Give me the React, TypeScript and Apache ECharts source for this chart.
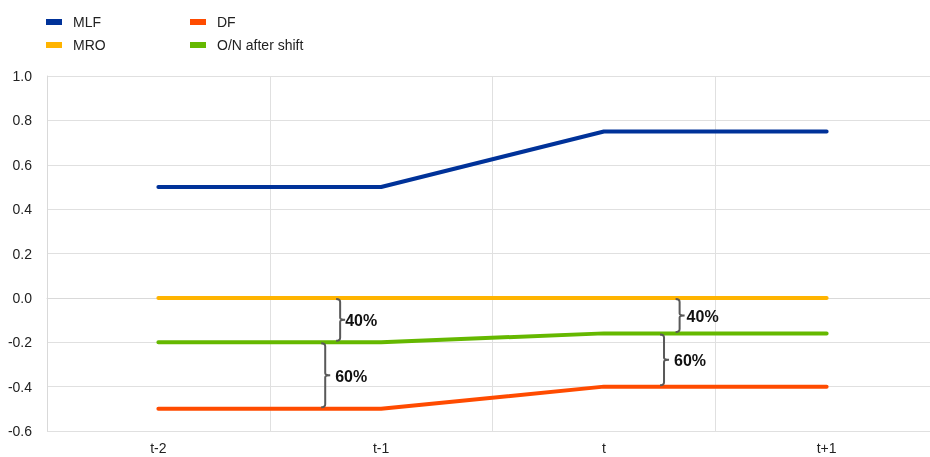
import React, { useEffect, useRef } from "react";
import * as echarts from "echarts";

const categories = ["t-2", "t-1", "t", "t+1"];
const mlf = [0.5, 0.5, 0.75, 0.75];
const mro = [0, 0, 0, 0];
const df = [-0.5, -0.5, -0.4, -0.4];
const onShift = [-0.2, -0.2, -0.16, -0.16];
const yTicks = { min: -0.6, max: 1.0, interval: 0.2 };
// brace annotations: [category index, top value, bottom value, offset in category widths]
const braces = [
  [1, 0, -0.2, -0.184],
  [1, -0.2, -0.5, -0.251],
  [2, 0, -0.16, 0.34],
  [2, -0.16, -0.4, 0.27],
];
const braceLabels = ["40%", "60%", "40%", "60%"];
const braceLabelGap = [5, 10, 7, 10];

const COLORS = {
  MLF: "#003299",
  MRO: "#FFB400",
  DF: "#FF4B00",
  ON: "#65B800",
};

export default function App() {
  const ref = useRef<HTMLDivElement>(null);
  useEffect(() => {
    if (!ref.current) return;
    const chart = echarts.init(ref.current, undefined, { renderer: "svg" });
    const lineSeries = (name: string, data: number[], color: string) => ({
      name,
      type: "line",
      data,
      symbol: "none",
      lineStyle: { color, width: 4, cap: "round" },
      itemStyle: { color },
      z: 3,
    });
    const legendBase = {
      orient: "vertical",
      top: 10,
      itemWidth: 16,
      itemHeight: 6,
      itemGap: 9,
      icon: "rect",
      textStyle: { fontSize: 14, color: "#222", padding: [0, 0, 0, 6] },
    };
    chart.setOption({
      animation: false,
      textStyle: { fontFamily: "Liberation Sans, Arial, sans-serif" },
      legend: [
        { ...legendBase, data: ["MLF", "MRO"], left: 41 },
        { ...legendBase, data: ["DF", "O/N after shift"], left: 185 },
      ],
      grid: {
        left: 47,
        top: 76,
        right: -8,
        bottom: 26,
        containLabel: false,
        outerBoundsMode: "none",
      },
      xAxis: {
        type: "category",
        data: categories,
        boundaryGap: true,
        axisLine: { show: true, lineStyle: { color: "#d9d9d9" } },
        axisTick: { show: false },
        axisLabel: { fontSize: 14, color: "#222", margin: 10 },
        splitLine: { show: true, lineStyle: { color: "#e0e0e0", width: 1 } },
      },
      yAxis: {
        type: "value",
        min: yTicks.min,
        max: yTicks.max,
        interval: yTicks.interval,
        axisLine: { show: true, lineStyle: { color: "#d9d9d9" } },
        axisTick: { show: false },
        axisLabel: {
          fontSize: 14,
          color: "#222",
          margin: 15,
          formatter: (v: number) => v.toFixed(1),
        },
        splitLine: { show: true, lineStyle: { color: "#e0e0e0", width: 1 } },
      },
      series: [
        lineSeries("MLF", mlf, COLORS.MLF),
        lineSeries("MRO", mro, COLORS.MRO),
        lineSeries("DF", df, COLORS.DF),
        lineSeries("O/N after shift", onShift, COLORS.ON),
        {
          type: "custom",
          z: 5,
          silent: true,
          data: braces,
          renderItem: (params: any, api: any) => {
            const idx = api.value(0);
            const off = api.value(3);
            const a = api.coord([0, 0]);
            const b = api.coord([1, 0]);
            const step = b[0] - a[0];
            const top = api.coord([idx, api.value(1)]);
            const bot = api.coord([idx, api.value(2)]);
            const x = top[0] + off * step;
            const y1 = top[1] + 1;
            const y2 = bot[1] - 1.5;
            const ym = (y1 + y2) / 2;
            const w = 4;
            const s = 5;
            const d =
              `M ${x - w} ${y1} Q ${x} ${y1} ${x} ${y1 + 3} ` +
              `L ${x} ${ym - 2} Q ${x} ${ym} ${x + s} ${ym} ` +
              `Q ${x} ${ym} ${x} ${ym + 2} L ${x} ${y2 - 3} Q ${x} ${y2} ${x - w} ${y2}`;
            return {
              type: "group",
              children: [
                {
                  type: "path",
                  shape: { pathData: d },
                  style: { stroke: "#595959", lineWidth: 2, fill: "none" },
                },
                {
                  type: "text",
                  x: x + braceLabelGap[params.dataIndex],
                  y: ym + 1,
                  style: {
                    text: braceLabels[params.dataIndex],
                    fontSize: 16,
                    fontWeight: "bold",
                    fill: "#111",
                    verticalAlign: "middle",
                    align: "left",
                    fontFamily: "Liberation Sans, Arial, sans-serif",
                  },
                },
              ],
            };
          },
        },
      ],
    });
    return () => chart.dispose();
  }, []);
  return (
    <div
      ref={ref}
      style={{ position: "fixed", left: 0, top: 0, width: 930, height: 457 }}
    />
  );
}
